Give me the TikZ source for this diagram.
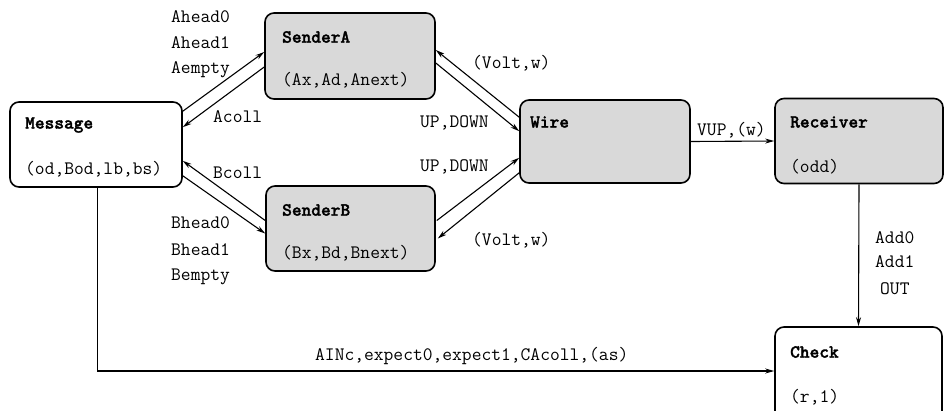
\documentclass[tikz,border=0pt]{standalone}
\usepackage{fontspec}
\newfontfamily\ttlfont[FakeBold=1.6]{lmmonolt10-bold.otf}
\usetikzlibrary{arrows.meta}
\begin{document}
\begin{tikzpicture}[x=1pt,y=-1pt,
  box/.style={draw, line width=1.6pt, rounded corners=9pt, inner sep=0pt},
  greybox/.style={box, fill=gray!30},
  lbl/.style={font=\fontsize{19}{21}\selectfont\ttfamily, inner sep=0pt, anchor=west},
  ttl/.style={font=\fontsize{18.5}{20}\selectfont\ttlfont, inner sep=0pt, anchor=west},
  conn/.style={line width=1.1pt, -{Stealth[length=9pt,width=5pt]}}]
\clip (0,0) rectangle (944,410);
\fill[white] (0,0) rectangle (944,410);
% boxes
\node[box, minimum width=172pt, minimum height=85pt] (msg) at (96,144.5) {};
\node[greybox, minimum width=170pt, minimum height=86pt] (sA) at (350,56) {};
\node[greybox, minimum width=169pt, minimum height=85pt] (sB) at (350.5,228.5) {};
\node[greybox, minimum width=170pt, minimum height=83pt] (wire) at (605,141.5) {};
\node[greybox, minimum width=168pt, minimum height=85pt] (recv) at (859,141) {};
\node[box, minimum width=167pt, minimum height=94pt] (chk) at (858.5,374) {};
% box texts
\node[ttl] (msgT) at (25,125) {Message};
\node[lbl] (msgV) at (25,169) {(od,Bod,lb,bs)};
\node[ttl] (sAT) at (282,37) {SenderA};
\node[lbl] (sAV) at (282,80) {(Ax,Ad,Anext)};
\node[ttl] (sBT) at (282,210) {SenderB};
\node[lbl] (sBV) at (282,253) {(Bx,Bd,Bnext)};
\node[ttl] (wireT) at (530,122) {Wire};
\node[ttl] (recvT) at (790,122) {Receiver};
\node[lbl] (recvV) at (790,167) {(odd)};
\node[ttl] (chkT) at (790,352) {Check};
\node[lbl] (chkV) at (790,397) {(r,1)};
% connectors
\draw[conn] ([shift={(0,10)}]msg.north east) -- ([shift={(0,-4)}]sA.west);
\draw[conn] ([shift={(0,11)}]sA.west) -- ([shift={(0,26)}]msg.north east);
\draw[conn] ([shift={(0,-8)}]sB.west) -- ([shift={(0,-27)}]msg.south east);
\draw[conn] ([shift={(0,-12)}]msg.south east) -- ([shift={(0,5)}]sB.west);
\draw[conn] ([shift={(0,18)}]wire.north west) -- ([shift={(0,-6)}]sA.east);
\draw[conn] ([shift={(0,7)}]sA.east) -- ([shift={(0,32)}]wire.north west);
\draw[conn] ([shift={(1,-8)}]sB.east) -- ([shift={(0,-26)}]wire.south west);
\draw[conn] ([shift={(0,-11)}]wire.south west) -- ([shift={(2,10)}]sB.east);
\draw[conn] (wire.east) -- (recv.west);
\draw[conn] (recv.south) -- (chk.north);
\draw[conn] ([xshift=-85pt]msg.south east) |- ([shift={(0,-3)}]chk.west);
% labels
\node[lbl] (la1) at (171,17) {Ahead0};
\node[lbl] (la2) at (171,43) {Ahead1};
\node[lbl] (la3) at (171,70) {Aempty};
\node[lbl] (la4) at (213,117) {Acoll};
\node[lbl] (lb4) at (213,173) {Bcoll};
\node[lbl] (lb1) at (171,223) {Bhead0};
\node[lbl] (lb2) at (171,250) {Bhead1};
\node[lbl] (lb3) at (171,277) {Bempty};
\node[lbl] (lv1) at (472,63) {(Volt,w)};
\node[lbl] (lu1) at (420,123) {UP,DOWN};
\node[lbl] (lu2) at (420,167) {UP,DOWN};
\node[lbl] (lv2) at (472,240) {(Volt,w)};
\node[lbl] (lvup) at (697,130) {VUP,(w)};
\node[lbl] (ld0) at (875,238) {Add0};
\node[lbl] (ld1) at (875,262) {Add1};
\node[lbl] (ld2) at (880,289) {OUT};
\node[lbl] (lain) at (315,356) {AINc,expect0,expect1,CAcoll,(as)};
\end{tikzpicture}
\end{document}
